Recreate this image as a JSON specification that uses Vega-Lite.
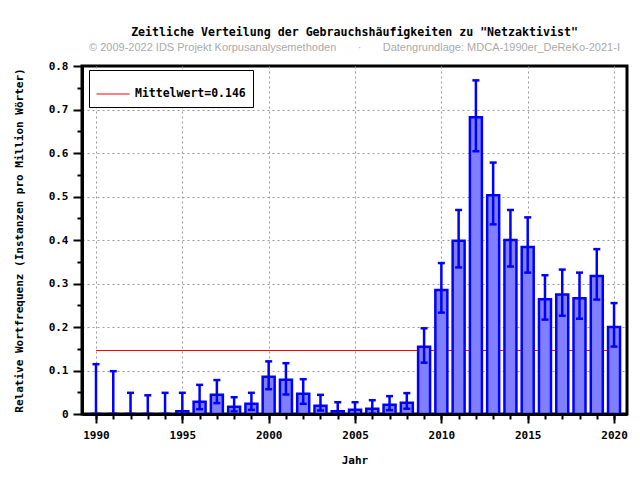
{
  "$schema": "https://vega.github.io/schema/vega-lite/v6.json",
  "autosize": "none",
  "width": 545,
  "height": 348,
  "padding": {"left": 82, "top": 66, "right": 13, "bottom": 66},
  "background": "white",
  "config": {
    "view": {"stroke": "black", "strokeWidth": 3},
    "axis": {"labelFont": "DejaVu Sans Mono", "labelFontWeight": "bold", "labelFontSize": 11, "labelColor": "black", "titleFont": "DejaVu Sans Mono", "titleFontWeight": "bold", "titleFontSize": 11, "titleColor": "black", "tickColor": "black", "domainColor": "black"}
  },
  "title": {
    "text": "Zeitliche Verteilung der Gebrauchshäufigkeiten zu \"Netzaktivist\"",
    "subtitle": "\u00a0\u00a0\u00a0\u00a0\u00a0\u00a0\u00a0\u00a0\u00a0© 2009-2022 IDS Projekt Korpusanalysemethoden\u00a0\u00a0\u00a0\u00a0\u00a0\u00a0\u00a0·\u00a0\u00a0\u00a0\u00a0\u00a0\u00a0\u00a0Datengrundlage: MDCA-1990er_DeReKo-2021-I",
    "font": "DejaVu Sans Mono",
    "fontWeight": "bold",
    "fontSize": 11.6,
    "color": "black",
    "subtitleFont": "Liberation Sans",
    "subtitleFontSize": 11,
    "subtitleColor": "#aaaaaa",
    "subtitlePadding": 3,
    "offset": 7,
    "anchor": "middle"
  },
  "datasets": {
    "freq": [
      {"year": 1990, "value": 0, "lo": 0, "hi": 0.1145},
      {"year": 1991, "value": 0, "lo": 0, "hi": 0.0984},
      {"year": 1992, "value": 0, "lo": 0, "hi": 0.0487},
      {"year": 1993, "value": 0, "lo": 0, "hi": 0.043},
      {"year": 1994, "value": 0, "lo": 0, "hi": 0.0487},
      {"year": 1995, "value": 0.0064, "lo": 0, "hi": 0.0487},
      {"year": 1996, "value": 0.028, "lo": 0.011, "hi": 0.067},
      {"year": 1997, "value": 0.044, "lo": 0.025, "hi": 0.078},
      {"year": 1998, "value": 0.0166, "lo": 0.006, "hi": 0.0386},
      {"year": 1999, "value": 0.0235, "lo": 0.0095, "hi": 0.0487},
      {"year": 2000, "value": 0.0855, "lo": 0.057, "hi": 0.121},
      {"year": 2001, "value": 0.0786, "lo": 0.0448, "hi": 0.1168},
      {"year": 2002, "value": 0.0464, "lo": 0.0234, "hi": 0.08},
      {"year": 2003, "value": 0.0189, "lo": 0.008, "hi": 0.044},
      {"year": 2004, "value": 0.0064, "lo": 0, "hi": 0.027},
      {"year": 2005, "value": 0.0095, "lo": 0, "hi": 0.027},
      {"year": 2006, "value": 0.012, "lo": 0.001, "hi": 0.0317},
      {"year": 2007, "value": 0.021, "lo": 0.0087, "hi": 0.041},
      {"year": 2008, "value": 0.0257, "lo": 0.012, "hi": 0.048},
      {"year": 2009, "value": 0.1545, "lo": 0.118, "hi": 0.197},
      {"year": 2010, "value": 0.285, "lo": 0.233, "hi": 0.347},
      {"year": 2011, "value": 0.398, "lo": 0.337, "hi": 0.469},
      {"year": 2012, "value": 0.682, "lo": 0.604, "hi": 0.767},
      {"year": 2013, "value": 0.503, "lo": 0.436, "hi": 0.578},
      {"year": 2014, "value": 0.4, "lo": 0.339, "hi": 0.469},
      {"year": 2015, "value": 0.384, "lo": 0.325, "hi": 0.452},
      {"year": 2016, "value": 0.264, "lo": 0.217, "hi": 0.319},
      {"year": 2017, "value": 0.275, "lo": 0.226, "hi": 0.332},
      {"year": 2018, "value": 0.266, "lo": 0.219, "hi": 0.325},
      {"year": 2019, "value": 0.317, "lo": 0.263, "hi": 0.379},
      {"year": 2020, "value": 0.2, "lo": 0.155, "hi": 0.255}
    ],
    "mean": [
      {"start": 1990, "end": 2020, "mean": 0.146, "label": "Mittelwert=0.146"}
    ]
  },
  "layer": [
    {
      "data": {"name": "mean"},
      "mark": {"type": "rule", "strokeWidth": 1},
      "encoding": {
        "x": {"field": "start", "type": "quantitative", "scale": {"domain": [1989.19, 2020.75], "nice": false, "zero": false, "padding": 0},
          "axis": {"orient": "bottom", "grid": true, "gridDash": [2, 3], "gridColor": "#999999", "gridWidth": 1, "gridOpacity": 1, "values": [1990, 1995, 2000, 2005, 2010, 2015, 2020], "ticks": false, "labels": false, "domain": false, "title": null, "zindex": 0}},
        "x2": {"field": "end"},
        "y": {"field": "mean", "type": "quantitative", "scale": {"domain": [0, 0.8], "nice": false, "padding": 0},
          "axis": {"orient": "left", "grid": true, "gridDash": [2, 3], "gridColor": "#999999", "gridWidth": 1, "gridOpacity": 1, "values": [0.1, 0.2, 0.3, 0.4, 0.5, 0.6, 0.7], "ticks": false, "labels": false, "domain": false, "title": null, "zindex": 0}},
        "color": {"field": "label", "type": "nominal", "scale": {"domain": ["Mittelwert=0.146"], "range": ["#ff0000"]},
          "legend": {"title": null, "orient": "none", "legendX": 7, "legendY": 4, "symbolType": "stroke", "symbolSize": 1089, "symbolStrokeWidth": 1, "strokeColor": "black", "fillColor": "white", "padding": 7, "labelFont": "DejaVu Sans Mono", "labelFontWeight": "bold", "labelFontSize": 11.5, "labelColor": "black", "labelOffset": 5}}
      }
    },
    {
      "data": {"name": "freq"},
      "mark": {"type": "bar", "size": 12, "fill": "#8080ff", "stroke": "#0000ff", "strokeWidth": 2.5},
      "encoding": {
        "x": {"field": "year", "type": "quantitative",
          "axis": {"orient": "bottom", "grid": false, "values": [1990, 1991, 1992, 1993, 1994, 1995, 1996, 1997, 1998, 1999, 2000, 2001, 2002, 2003, 2004, 2005, 2006, 2007, 2008, 2009, 2010, 2011, 2012, 2013, 2014, 2015, 2016, 2017, 2018, 2019, 2020], "tickSize": 5, "tickWidth": 2, "labels": false, "domain": false, "title": null, "zindex": 1}},
        "y": {"field": "value", "type": "quantitative",
          "axis": {"orient": "left", "grid": false, "values": [0.05, 0.15, 0.25, 0.35, 0.45, 0.55, 0.65, 0.75], "tickSize": 5, "tickWidth": 2, "labels": false, "domain": false, "title": null, "zindex": 1}}
      }
    },
    {
      "data": {"name": "freq"},
      "mark": {"type": "rule", "color": "#0000ff", "strokeWidth": 2.5},
      "encoding": {
        "x": {"field": "year", "type": "quantitative",
          "axis": {"orient": "bottom", "grid": false, "values": [1990, 1995, 2000, 2005, 2010, 2015, 2020], "format": "d", "tickSize": 9, "tickWidth": 2, "labelPadding": 6, "domain": true, "domainWidth": 3, "title": "Jahr", "titlePadding": 14, "zindex": 1}},
        "y": {"field": "lo", "type": "quantitative",
          "axis": {"orient": "left", "grid": false, "values": [0, 0.1, 0.2, 0.3, 0.4, 0.5, 0.6, 0.7, 0.8], "labelExpr": "datum.value == 0 ? '0' : format(datum.value, '.1f')", "tickSize": 9, "tickWidth": 2, "labelPadding": 5, "domain": true, "domainWidth": 3, "title": "Relative Wortfrequenz (Instanzen pro Million Wörter)", "titlePadding": 24, "zindex": 1}},
        "y2": {"field": "hi"}
      }
    },
    {
      "data": {"name": "freq"},
      "mark": {"type": "tick", "orient": "horizontal", "color": "#0000ff", "size": 7, "thickness": 2.5, "opacity": 1},
      "encoding": {
        "x": {"field": "year", "type": "quantitative", "axis": null},
        "y": {"field": "hi", "type": "quantitative", "axis": null}
      }
    },
    {
      "data": {"name": "freq"},
      "mark": {"type": "tick", "orient": "horizontal", "color": "#0000ff", "size": 7, "thickness": 2.5, "opacity": 1},
      "encoding": {
        "x": {"field": "year", "type": "quantitative", "axis": null},
        "y": {"field": "lo", "type": "quantitative", "axis": null}
      }
    }
  ],
  "resolve": {"axis": {"x": "independent", "y": "independent"}}
}
